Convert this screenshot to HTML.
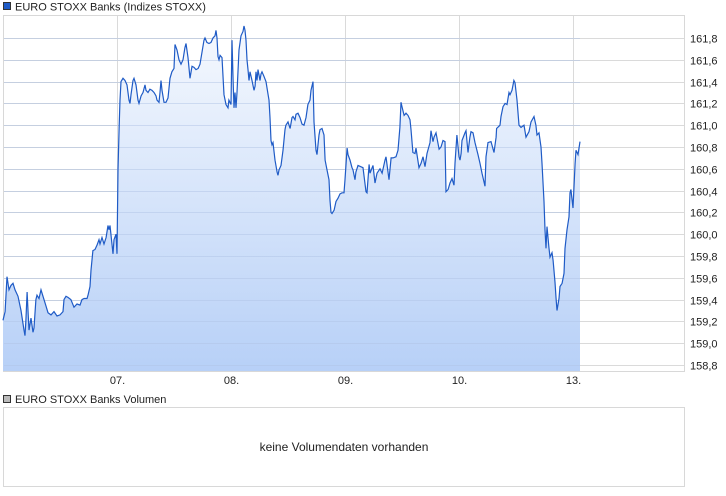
<!DOCTYPE html>
<html><head><meta charset="utf-8">
<style>
body{margin:0;background:#fff;font-family:"Liberation Sans",sans-serif;}
svg{display:block}
text{font-family:"Liberation Sans",sans-serif;}
</style></head>
<body>
<svg id="chart" width="726" height="496" xmlns="http://www.w3.org/2000/svg">
<defs>
<linearGradient id="fillg" x1="0" y1="0" x2="0" y2="1">
<stop offset="0" stop-color="#f6f9fe"/>
<stop offset="1" stop-color="#b7d0f7"/>
</linearGradient>
</defs>
<rect x="3.5" y="2.5" width="7" height="7" fill="#1f5bc6" stroke="#333" stroke-width="1"/>
<text x="15" y="10.5" font-size="11" fill="#222">EURO STOXX Banks (Indizes STOXX)</text>
<rect x="3.5" y="15.5" width="681" height="356" fill="#fff" stroke="#d8d8d8"/>
<g id="grid"></g>
<g id="area"></g>
<g id="yaxis"></g>
<g id="xaxis"></g>
<rect x="3.5" y="395.5" width="7" height="7" fill="#bbb" stroke="#333"/>
<text x="15" y="403" font-size="11" fill="#222">EURO STOXX Banks Volumen</text>
<rect x="3.5" y="407.5" width="681" height="79" fill="#fff" stroke="#d8d8d8"/>
<text x="344" y="451" font-size="12" fill="#222" text-anchor="middle">keine Volumendaten vorhanden</text>
</svg>
<script>
const yTicks=[158.8,159.0,159.2,159.4,159.6,159.8,160.0,160.2,160.4,160.6,160.8,161.0,161.2,161.4,161.6,161.8];
const xTicks=[1,2,3,4,5];
const xTickLabels=["07.","08.","09.","10.","13."];
const times=[0,.018,.035,.053,.070,.088,.105,.132,.158,.184,.193,.202,.211,.219,.228,.246,.263,.272,.289,.298,.316,.333,.351,.377,.395,.421,.447,.474,.5,.526,.535,.553,.570,.596,.623,.649,.675,.693,.711,.737,.746,.763,.772,.789,.807,.825,.842,.851,.868,.886,.904,.921,.930,.939,.965,.974,.991,1.0,1.009,1.018,1.026,1.035,1.053,1.070,1.088,1.105,1.114,1.123,1.140,1.149,1.167,1.184,1.193,1.211,1.228,1.246,1.254,1.272,1.289,1.307,1.325,1.342,1.351,1.368,1.377,1.386,1.395,1.412,1.430,1.447,1.465,1.482,1.5,1.509,1.526,1.544,1.561,1.579,1.596,1.605,1.623,1.640,1.658,1.675,1.693,1.711,1.728,1.746,1.763,1.772,1.789,1.807,1.825,1.842,1.860,1.868,1.877,1.886,1.895,1.904,1.921,1.939,1.956,1.974,1.982,2.0,2.009,2.018,2.026,2.035,2.044,2.053,2.070,2.088,2.105,2.114,2.123,2.132,2.140,2.149,2.158,2.167,2.184,2.202,2.211,2.219,2.228,2.237,2.254,2.263,2.272,2.289,2.307,2.325,2.333,2.342,2.351,2.360,2.368,2.386,2.404,2.412,2.421,2.439,2.456,2.474,2.482,2.5,2.518,2.535,2.544,2.561,2.570,2.588,2.605,2.623,2.640,2.658,2.675,2.693,2.702,2.719,2.728,2.746,2.754,2.772,2.781,2.798,2.816,2.825,2.842,2.860,2.868,2.877,2.886,2.904,2.921,2.939,2.956,2.974,2.991,3.0,3.018,3.026,3.044,3.061,3.070,3.088,3.096,3.114,3.158,3.184,3.193,3.211,3.219,3.246,3.263,3.281,3.307,3.325,3.351,3.360,3.386,3.404,3.421,3.447,3.465,3.482,3.491,3.5,3.518,3.535,3.553,3.570,3.579,3.596,3.614,3.623,3.649,3.667,3.684,3.702,3.719,3.746,3.754,3.772,3.781,3.798,3.825,3.842,3.860,3.877,3.886,3.904,3.921,3.939,3.956,3.965,3.982,4.0,4.009,4.018,4.026,4.053,4.061,4.079,4.096,4.105,4.123,4.140,4.167,4.184,4.202,4.228,4.237,4.254,4.281,4.307,4.325,4.33,4.360,4.368,4.386,4.404,4.421,4.439,4.447,4.465,4.482,4.491,4.509,4.526,4.544,4.570,4.588,4.614,4.632,4.658,4.675,4.684,4.702,4.719,4.728,4.746,4.754,4.763,4.772,4.789,4.798,4.816,4.825,4.842,4.851,4.860,4.877,4.886,4.904,4.921,4.930,4.947,4.965,4.974,4.982,5.0,5.018,5.026,5.044,5.061];
const prices=[159.21,159.29,159.61,159.49,159.53,159.55,159.49,159.43,159.30,159.12,159.07,159.23,159.47,159.30,159.12,159.23,159.10,159.14,159.40,159.44,159.41,159.49,159.43,159.34,159.28,159.26,159.29,159.25,159.26,159.29,159.40,159.43,159.42,159.40,159.33,159.36,159.35,159.40,159.41,159.41,159.44,159.52,159.67,159.85,159.86,159.90,159.95,159.91,159.97,159.91,159.97,160.08,160.04,160.08,159.82,159.95,160.0,159.82,160.59,160.97,161.23,161.40,161.43,161.41,161.37,161.23,161.20,161.28,161.41,161.43,161.37,161.23,161.20,161.27,161.30,161.37,161.32,161.30,161.33,161.32,161.30,161.27,161.23,161.21,161.30,161.41,161.32,161.21,161.21,161.25,161.43,161.49,161.52,161.74,161.69,161.60,161.56,161.60,161.71,161.75,161.62,161.43,161.54,161.53,161.51,161.52,161.56,161.67,161.78,161.80,161.76,161.75,161.76,161.80,161.82,161.87,161.80,161.63,161.60,161.64,161.62,161.28,161.19,161.16,161.23,161.19,161.78,161.41,161.16,161.30,161.16,161.30,161.69,161.82,161.86,161.91,161.87,161.78,161.60,161.51,161.41,161.49,161.41,161.32,161.36,161.49,161.41,161.51,161.41,161.47,161.49,161.45,161.40,161.28,161.23,161.07,160.86,160.82,160.84,160.68,160.57,160.54,160.59,160.63,160.77,160.96,161.0,161.03,160.97,161.07,161.08,161.05,161.10,161.11,161.07,161.01,161.0,161.07,161.19,161.23,161.32,161.40,161.03,160.77,160.73,160.91,160.96,160.97,160.91,160.68,160.59,160.50,160.31,160.20,160.19,160.22,160.30,160.33,160.37,160.38,160.38,160.50,160.79,160.73,160.68,160.61,160.59,160.50,160.57,160.63,160.61,160.39,160.38,160.64,160.56,160.63,160.47,160.56,160.60,160.56,160.68,160.71,160.50,160.70,160.70,160.71,160.77,160.98,161.21,161.17,161.09,161.11,161.09,161.05,160.96,160.75,160.74,160.79,160.61,160.65,160.71,160.62,160.74,160.84,160.95,160.85,160.89,160.93,160.78,160.80,160.86,160.85,160.39,160.41,160.47,160.51,160.45,160.65,160.91,160.71,160.68,160.74,160.86,160.93,160.95,160.75,160.89,160.94,160.93,160.84,160.73,160.65,160.56,160.44,160.71,160.84,160.85,160.75,160.89,160.97,161.0,161.08,161.17,161.20,161.19,161.30,161.28,161.32,161.41,161.39,161.23,161.0,160.98,161.0,160.89,160.94,161.03,161.08,161.0,160.91,160.93,160.80,160.65,160.30,160.04,159.87,160.07,159.88,159.79,159.83,159.76,159.56,159.42,159.30,159.41,159.52,159.55,159.64,159.87,160.04,160.16,160.38,160.41,160.24,160.65,160.77,160.73,160.85];

const NS="http://www.w3.org/2000/svg";
const X0=3,DAYW=114,YB=365,PXV=109;
function xs(t){return X0+t*DAYW;}
function ys(v){return YB-(v-158.8)*PXV;}
function mk(tag,attrs,parent){const e=document.createElementNS(NS,tag);for(const k in attrs)e.setAttribute(k,attrs[k]);parent.appendChild(e);return e;}
const grid=document.getElementById('grid'),area=document.getElementById('area'),ya=document.getElementById('yaxis'),xa=document.getElementById('xaxis');
yTicks.forEach(v=>{
  const y=Math.round(ys(v))+0.5;
  const l=mk('line',{x1:4,x2:684,y1:y,y2:y,stroke:'#dadada'},grid);
  
  
  const t=mk('text',{x:690,y:y+4,'font-size':11,fill:'#222'},ya);
  
  
  t.textContent=v.toFixed(1).replace('.',',');
});
xTicks.forEach((d,i)=>{
  const x=Math.round(xs(d))+0.5;
  const l=mk('line',{x1:x,x2:x,y1:16,y2:371,stroke:'#dadada'},grid);
  
  
  const t=mk('text',{x:x,y:384,'font-size':11,fill:'#222','text-anchor':'middle'},xa);
  
  
  t.textContent=xTickLabels[i];
});
let d='';
times.forEach((t,i)=>{d+=(i?'L':'M')+xs(t).toFixed(1)+','+ys(prices[i]).toFixed(1);});
const last=xs(times[times.length-1]).toFixed(1);
const fill=mk('path',{d:d+'L'+last+',371L'+xs(times[0]).toFixed(1)+',371Z',fill:'url(#fillg)',stroke:'none'},area);


// redraw horizontal grid over fill faintly
yTicks.forEach(v=>{
  const y=Math.round(ys(v))+0.5;
  const l=mk('line',{x1:4,x2:last,y1:y,y2:y,stroke:'#b0c4e6','stroke-opacity':0.5},area);
  
  
});
const line=mk('path',{d:d,fill:'none',stroke:'#1f5bc6','stroke-width':1.2},area);


</script>
</body></html>
